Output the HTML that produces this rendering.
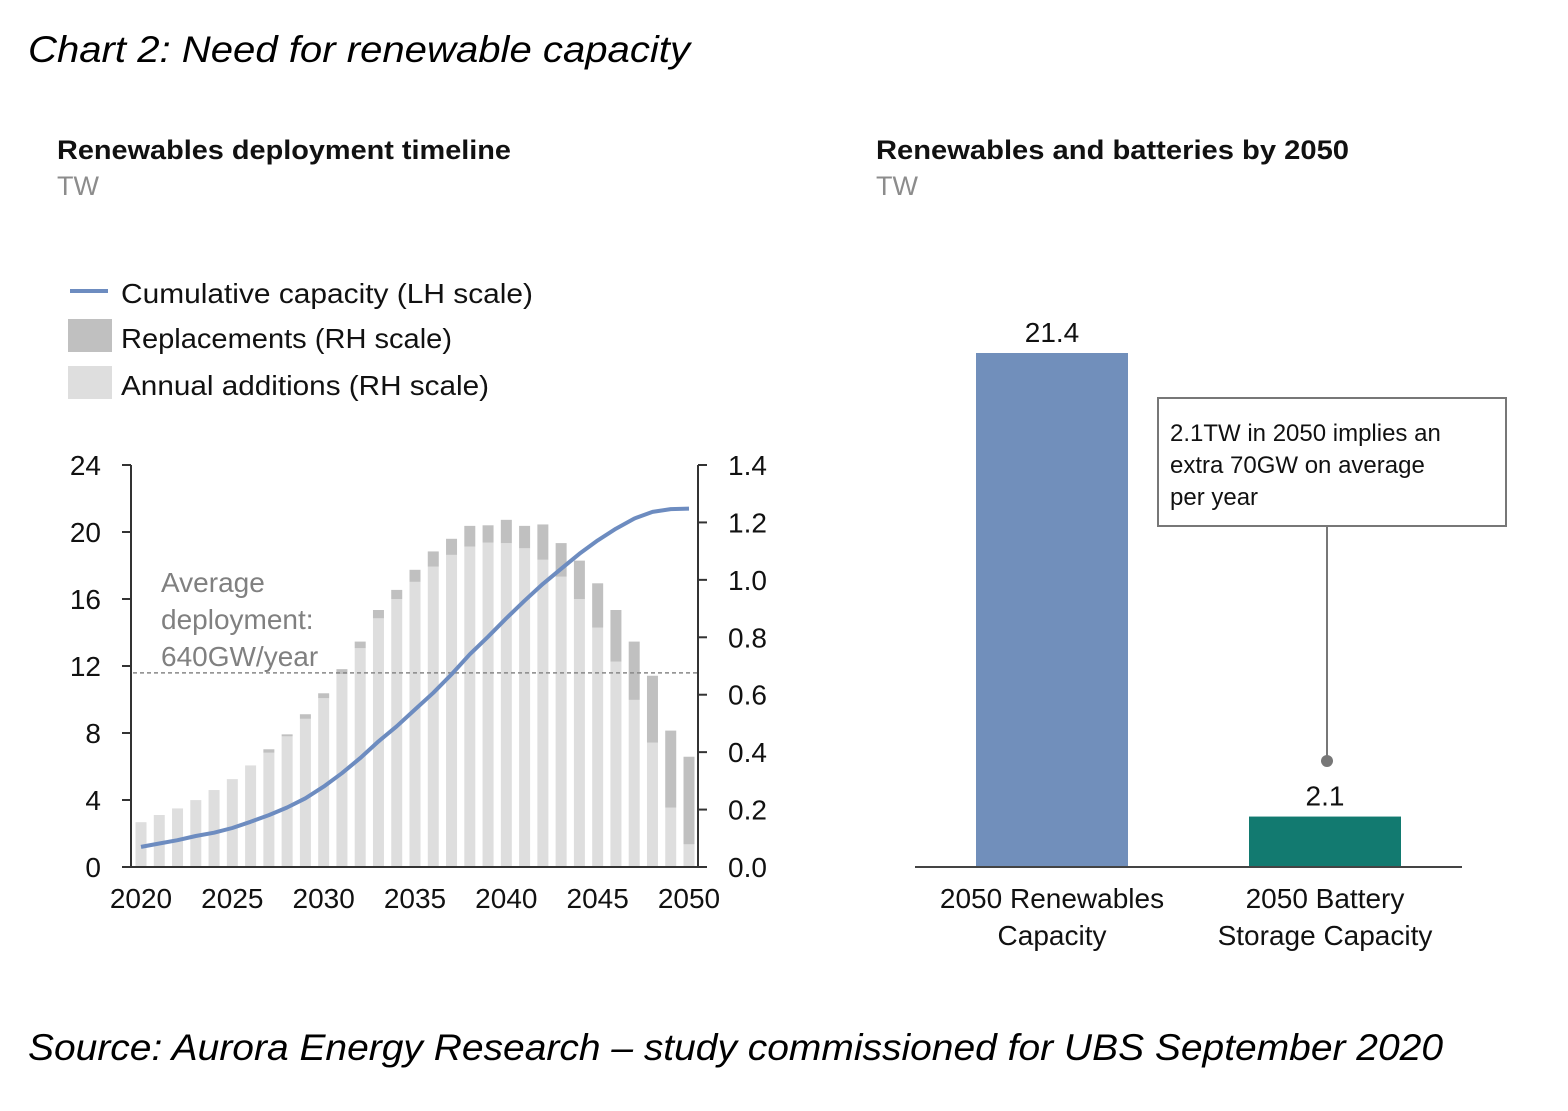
<!DOCTYPE html>
<html><head><meta charset="utf-8">
<style>
html,body{margin:0;padding:0;background:#fff;}
body{width:1568px;height:1106px;overflow:hidden;}
svg text{font-family:"Liberation Sans",sans-serif;}
</style></head>
<body>
<svg id="chart" width="1568" height="1106" viewBox="0 0 1568 1106" xmlns="http://www.w3.org/2000/svg">
<text x="28" y="62" font-size="37" font-style="italic" fill="#000" textLength="662" lengthAdjust="spacingAndGlyphs">Chart 2: Need for renewable capacity</text>
<text x="57" y="159" font-size="27" font-weight="bold" fill="#111" textLength="454" lengthAdjust="spacingAndGlyphs">Renewables deployment timeline</text>
<text x="57" y="195" font-size="27" fill="#8c8c8c">TW</text>
<text x="876" y="159" font-size="27" font-weight="bold" fill="#111" textLength="473" lengthAdjust="spacingAndGlyphs">Renewables and batteries by 2050</text>
<text x="876" y="195" font-size="27" fill="#8c8c8c">TW</text>
<g>
<line x1="70" y1="291" x2="108" y2="291" stroke="#6d8cc0" stroke-width="4"/>
<text x="121" y="303" font-size="28" fill="#111" textLength="412" lengthAdjust="spacingAndGlyphs">Cumulative capacity (LH scale)</text>
<rect x="68" y="319" width="44" height="33" fill="#c0c0c0"/>
<text x="121" y="348" font-size="28" fill="#111" textLength="331" lengthAdjust="spacingAndGlyphs">Replacements (RH scale)</text>
<rect x="68" y="366" width="44" height="33" fill="#dedede"/>
<text x="121" y="395" font-size="28" fill="#111" textLength="368" lengthAdjust="spacingAndGlyphs">Annual additions (RH scale)</text>
</g>
<g id="left"></g>
<g id="right"></g>
<text x="28" y="1060" font-size="37" font-style="italic" fill="#000" textLength="1415" lengthAdjust="spacingAndGlyphs">Source: Aurora Energy Research – study commissioned for UBS September 2020</text>
</svg>
<script>
const years = [2020,2021,2022,2023,2024,2025,2026,2027,2028,2029,2030,2031,2032,2033,2034,2035,2036,2037,2038,2039,2040,2041,2042,2043,2044,2045,2046,2047,2048,2049,2050];
const annualAdditions = [0.156,0.181,0.204,0.233,0.268,0.306,0.352,0.398,0.455,0.516,0.588,0.672,0.762,0.866,0.933,0.993,1.046,1.087,1.116,1.13,1.128,1.11,1.07,1.011,0.933,0.834,0.715,0.582,0.433,0.207,0.079];
const replacements = [0,0,0,0,0,0,0.001,0.012,0.007,0.016,0.017,0.017,0.023,0.029,0.032,0.042,0.053,0.056,0.072,0.06,0.081,0.078,0.123,0.117,0.134,0.154,0.18,0.203,0.233,0.268,0.305];
const cumulative = [1.2,1.4,1.6,1.85,2.05,2.33,2.7,3.1,3.55,4.1,4.8,5.6,6.5,7.5,8.4,9.4,10.4,11.5,12.7,13.75,14.85,15.9,16.9,17.8,18.7,19.5,20.2,20.8,21.2,21.37,21.4];
const averageDeployment = 0.676;
const lhTicks = [0,4,8,12,16,20,24];
const rhTicks = [0.0,0.2,0.4,0.6,0.8,1.0,1.2,1.4];
const xTickYears = [2020,2025,2030,2035,2040,2045,2050];
const rCategories = [["2050 Renewables","Capacity"],["2050 Battery","Storage Capacity"]];
const rValues = [21.4, 2.1];
const rLabels = ["21.4","2.1"];

const NS="http://www.w3.org/2000/svg";
function mk(parent,tag,attrs,text){const e=document.createElementNS(NS,tag);for(const k in attrs)e.setAttribute(k,attrs[k]);if(text!==undefined)e.textContent=text;parent.appendChild(e);return e;}
const L=document.getElementById('left'), R=document.getElementById('right');
const y0=867, yTop=465;
const xL=(yr)=>141+(yr-2020)*(689-141)/30;
const yLH=(v)=>y0-v*(y0-yTop)/24;
const yRH=(v)=>y0-v*(y0-yTop)/1.4;
const bw=11;
years.forEach((yr,i)=>{
  const a=annualAdditions[i], r=replacements[i];
  const b=mk(L,'rect',{x:xL(yr)-bw/2,y:yRH(a),width:bw,height:y0-yRH(a),fill:'#dedede'});
  
  
  if(r>0){const rr=mk(L,'rect',{x:xL(yr)-bw/2,y:yRH(a+r),width:bw,height:yRH(a)-yRH(a+r),fill:'#c0c0c0'});
  
  }
});
const dl=mk(L,'line',{x1:133,x2:697,y1:yRH(averageDeployment),y2:yRH(averageDeployment),stroke:'#888','stroke-width':1.5,'stroke-dasharray':'4,3'});


['Average','deployment:','640GW/year'].forEach((t,i)=>{const tx=mk(L,'text',{x:161,y:592+i*37,'font-size':28,fill:'#808080'},t);

});
let d='';years.forEach((yr,i)=>{d+=(i?'L':'M')+xL(yr).toFixed(1)+','+yLH(cumulative[i]).toFixed(1);});
const ln=mk(L,'path',{d:d,fill:'none',stroke:'#6d8cc0','stroke-width':4,'stroke-linejoin':'round'});


const ax1=mk(L,'line',{x1:131,x2:131,y1:yTop,y2:y0,stroke:'#333','stroke-width':2});


const ax2=mk(L,'line',{x1:698,x2:698,y1:yTop,y2:y0,stroke:'#333','stroke-width':2});


const ax3=mk(L,'line',{x1:131,x2:698,y1:y0,y2:y0,stroke:'#333','stroke-width':2});


lhTicks.forEach(v=>{mk(L,'line',{x1:122,x2:131,y1:yLH(v),y2:yLH(v),stroke:'#333','stroke-width':2});
const t=mk(L,'text',{x:101,y:yLH(v)+10,'font-size':28,'text-anchor':'end',fill:'#111'},String(v));

});
rhTicks.forEach(v=>{mk(L,'line',{x1:698,x2:707,y1:yRH(v),y2:yRH(v),stroke:'#333','stroke-width':2});
const t=mk(L,'text',{x:728,y:yRH(v)+10,'font-size':28,fill:'#111'},v.toFixed(1));

});
xTickYears.forEach(yr=>{const t=mk(L,'text',{x:xL(yr),y:908,'font-size':28,'text-anchor':'middle',fill:'#111'},String(yr));

});
const yR=(v)=>867-v*(867-353)/21.4;
const rX=[1052,1325], rColors=['#718fbb','#127a70'];
rValues.forEach((v,i)=>{
  const b=mk(R,'rect',{x:rX[i]-76,y:yR(v),width:152,height:867-yR(v),fill:rColors[i]});
  
  
  const t=mk(R,'text',{x:rX[i],y:yR(v)-11,'font-size':28,'text-anchor':'middle',fill:'#111'},rLabels[i]);
  
  
  rCategories[i].forEach((c,j)=>{const tt=mk(R,'text',{x:rX[i],y:908+j*37,'font-size':28,'text-anchor':'middle',fill:'#111'},c);
  
  });
});
const base=mk(R,'line',{x1:915,x2:1462,y1:867,y2:867,stroke:'#444','stroke-width':2});


const cl=mk(R,'line',{x1:1327,x2:1327,y1:526,y2:761,stroke:'#777','stroke-width':2});


const cd=mk(R,'circle',{cx:1327,cy:761,r:6,fill:'#777'});


const box=mk(R,'rect',{x:1158,y:398,width:348,height:128,fill:'#fff',stroke:'#777','stroke-width':2});


['2.1TW in 2050 implies an','extra 70GW on average','per year'].forEach((t,i)=>{const tx=mk(R,'text',{x:1170,y:441+i*32,'font-size':24,fill:'#111'},t);

});
</script>
</body></html>
